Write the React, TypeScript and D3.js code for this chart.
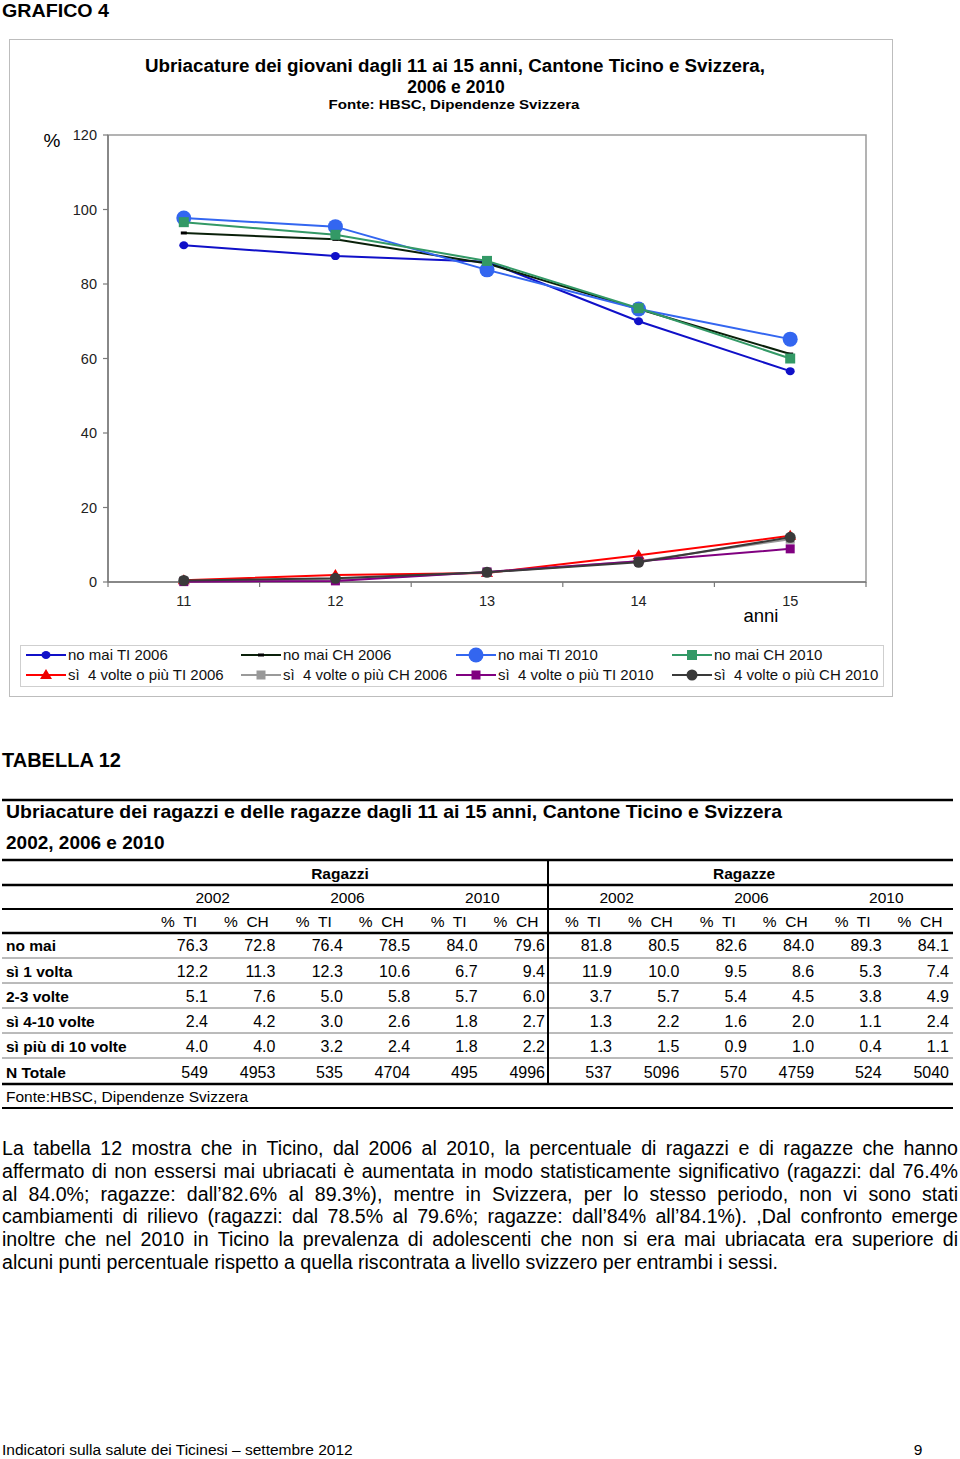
import React, { useEffect, useRef } from "react";
import * as d3 from "d3";

const ages = ["11", "12", "13", "14", "15"];
const yTicks = [0, 20, 40, 60, 80, 100, 120];

const noMaiTI2006 = [90.4, 87.5, 86.0, 70.0, 56.6];
const noMaiCH2006 = [93.7, 92.0, 85.5, 73.3, 61.2];
const noMaiTI2010 = [97.7, 95.4, 83.8, 73.3, 65.2];
const noMaiCH2010 = [96.6, 93.2, 86.2, 73.5, 60.0];
const si4TI2006 = [0.5, 1.9, 2.4, 7.2, 12.4];
const si4CH2006 = [0.3, 0.6, 2.6, 5.6, 11.5];
const si4TI2010 = [0.1, 0.3, 2.7, 5.6, 8.9];
const si4CH2010 = [0.4, 1.0, 2.6, 5.3, 12.0];

const seriesNames = [
  "no mai TI 2006", "no mai CH 2006", "no mai TI 2010", "no mai CH 2010",
  "sì  4 volte o più TI 2006", "sì  4 volte o più CH 2006", "sì  4 volte o più TI 2010", "sì  4 volte o più CH 2010",
];

// table data
const tableYears = ["2002", "2006", "2010", "2002", "2006", "2010"];
const tableRowLabels = ["no mai", "sì 1 volta", "2-3 volte", "sì 4-10 volte", "sì più di 10 volte", "N Totale"];
const rowNoMai = ["76.3", "72.8", "76.4", "78.5", "84.0", "79.6", "81.8", "80.5", "82.6", "84.0", "89.3", "84.1"];
const rowUnaVolta = ["12.2", "11.3", "12.3", "10.6", "6.7", "9.4", "11.9", "10.0", "9.5", "8.6", "5.3", "7.4"];
const rowDueTre = ["5.1", "7.6", "5.0", "5.8", "5.7", "6.0", "3.7", "5.7", "5.4", "4.5", "3.8", "4.9"];
const rowQuattroDieci = ["2.4", "4.2", "3.0", "2.6", "1.8", "2.7", "1.3", "2.2", "1.6", "2.0", "1.1", "2.4"];
const rowPiuDieci = ["4.0", "4.0", "3.2", "2.4", "1.8", "2.2", "1.3", "1.5", "0.9", "1.0", "0.4", "1.1"];
const rowTotale = ["549", "4953", "535", "4704", "495", "4996", "537", "5096", "570", "4759", "524", "5040"];

const paragraphLines = [
  "La tabella 12 mostra che in Ticino, dal 2006 al 2010, la percentuale di ragazzi e di ragazze che hanno",
  "affermato di non essersi mai ubriacati è aumentata in modo statisticamente significativo (ragazzi: dal 76.4%",
  "al 84.0%; ragazze: dall’82.6% al 89.3%), mentre in Svizzera, per lo stesso periodo, non vi sono stati",
  "cambiamenti di rilievo (ragazzi: dal 78.5% al 79.6%; ragazze: dall’84% all’84.1%). ,Dal confronto emerge",
  "inoltre che nel 2010 in Ticino la prevalenza di adolescenti che non si era mai ubriacata era superiore di",
  "alcuni punti percentuale rispetto a quella riscontrata a livello svizzero per entrambi i sessi.",
];

const FONT = "'Liberation Sans', Arial, Helvetica, sans-serif";

type Marker = "smallCircle" | "dash" | "bigCircle" | "square" | "triangle" | "greySquare" | "purpleSquare" | "darkCircle";
const seriesStyles: { color: string; marker: Marker; markerColor: string }[] = [
  { color: "#1010c8", marker: "smallCircle", markerColor: "#1010c8" },
  { color: "#0a200a", marker: "dash", markerColor: "#000000" },
  { color: "#3366f0", marker: "bigCircle", markerColor: "#3366f0" },
  { color: "#339966", marker: "square", markerColor: "#339966" },
  { color: "#ff0000", marker: "triangle", markerColor: "#ee0000" },
  { color: "#9a9a9a", marker: "greySquare", markerColor: "#999999" },
  { color: "#800080", marker: "purpleSquare", markerColor: "#800080" },
  { color: "#3a3a3a", marker: "darkCircle", markerColor: "#3a3a3a" },
];

function drawMarker(m: Marker, x: number, y: number, color: string, key: string) {
  switch (m) {
    case "smallCircle":
      return <ellipse key={key} cx={x} cy={y} rx={4.5} ry={4} fill={color} />;
    case "dash":
      return <rect key={key} x={x - 3} y={y - 1.5} width={6} height={3} fill={color} />;
    case "bigCircle":
      return <circle key={key} cx={x} cy={y} r={7.5} fill={color} />;
    case "square":
      return <rect key={key} x={x - 5} y={y - 5} width={10} height={10} fill={color} />;
    case "triangle":
      return <path key={key} d={`M${x},${y - 6}L${x + 6},${y + 4}L${x - 6},${y + 4}Z`} fill={color} />;
    case "greySquare":
    case "purpleSquare":
      return <rect key={key} x={x - 4.5} y={y - 4.5} width={9} height={9} fill={color} />;
    case "darkCircle":
      return <circle key={key} cx={x} cy={y} r={5.5} fill={color} />;
  }
}

export default function App() {
  const paraRef = useRef<SVGGElement>(null);

  const seriesValues = [noMaiTI2006, noMaiCH2006, noMaiTI2010, noMaiCH2010, si4TI2006, si4CH2006, si4TI2010, si4CH2010];

  const x = d3.scalePoint<string>().domain(ages).range([108, 866]).padding(0.5);
  const y = d3.scaleLinear().domain([0, 120]).range([582, 135]);
  const step = x.step();
  const line = d3.line<number>().x((_, i) => x(ages[i]) as number).y((d) => y(d));

  // table
  const tableRows = [rowNoMai, rowUnaVolta, rowDueTre, rowQuattroDieci, rowPiuDieci, rowTotale];
  const colRight = d3.range(12).map((i) => (i < 6 ? 208 + i * 67.4 : 612 + (i - 6) * 67.4));
  const colCenter = colRight.map((r) => r - 29);
  const rowBaselines = [951, 977, 1002, 1027, 1052, 1078];

  useEffect(() => {
    const g = d3.select(paraRef.current);
    g.selectAll("*").remove();
    const left = 2;
    const right = 958;
    const baseY = 1155;
    const lh = 22.8;
    paragraphLines.forEach((ln, li) => {
      const words = ln.split(" ");
      const yy = baseY + li * lh;
      const nodes = words.map((w) =>
        g.append("text").attr("y", yy).attr("font-family", FONT).attr("font-size", 19.6).attr("fill", "#000").text(w)
      );
      const widths = nodes.map((n) => (n.node() as SVGTextElement).getComputedTextLength());
      const total = d3.sum(widths);
      const last = li === paragraphLines.length - 1;
      const gap = last ? 5.4 : (right - left - total) / (words.length - 1);
      let cx = left;
      nodes.forEach((n, i) => {
        n.attr("x", cx);
        cx += widths[i] + gap;
      });
    });
  }, []);

  const legendCols = [26, 241, 456, 672];
  const legendRows = [655, 675];
  const TF = 15.5;

  return (
    <svg width={960} height={1459} style={{ position: "absolute", left: 0, top: 0, background: "#fff" }} fontFamily={FONT}>
      <rect x={0} y={0} width={960} height={1459} fill="#fff" />
      <text x={2} y={17} fontSize={19} fontWeight="bold" textLength={107} lengthAdjust="spacingAndGlyphs">GRAFICO 4</text>

      {/* chart frame */}
      <rect x={9.5} y={39.5} width={883} height={657} fill="none" stroke="#bdbdbd" strokeWidth={1} />
      <text x={455} y={72} fontSize={17.5} fontWeight="bold" textAnchor="middle" textLength={620} lengthAdjust="spacingAndGlyphs">
        Ubriacature dei giovani dagli 11 ai 15 anni, Cantone Ticino e Svizzera,
      </text>
      <text x={456} y={93} fontSize={17.5} fontWeight="bold" textAnchor="middle">2006 e 2010</text>
      <text x={454} y={109} fontSize={13.5} fontWeight="bold" textAnchor="middle" textLength={251} lengthAdjust="spacingAndGlyphs">
        Fonte: HBSC, Dipendenze Svizzera
      </text>

      {/* plot area */}
      <rect x={108} y={135} width={758} height={447} fill="none" stroke="#9a9a9a" strokeWidth={1.5} />
      <line x1={108} x2={108} y1={135} y2={582} stroke="#7a7a7a" strokeWidth={1.5} />
      <line x1={108} x2={866} y1={582} y2={582} stroke="#7a7a7a" strokeWidth={1.5} />
      {yTicks.map((t) => (
        <g key={t}>
          <line x1={103} x2={108} y1={y(t)} y2={y(t)} stroke="#7a7a7a" strokeWidth={1.2} />
          <text x={97} y={y(t) + 5} fontSize={14.5} textAnchor="end" fill="#222">{t}</text>
        </g>
      ))}
      {d3.range(ages.length + 1).map((i) => (
        <line key={i} x1={108 + i * step} x2={108 + i * step} y1={582} y2={587} stroke="#7a7a7a" strokeWidth={1.2} />
      ))}
      {ages.map((a) => (
        <text key={a} x={x(a)} y={606} fontSize={14.5} textAnchor="middle" fill="#222">{a}</text>
      ))}
      <text x={52} y={147} fontSize={19} textAnchor="middle">%</text>
      <text x={761} y={622} fontSize={18.5} textAnchor="middle">anni</text>

      {/* series */}
      {seriesValues.map((vals, si) => (
        <g key={si}>
          <path d={line(vals) || ""} fill="none" stroke={seriesStyles[si].color} strokeWidth={2} />
          {vals.map((v, i) => drawMarker(seriesStyles[si].marker, x(ages[i]) as number, y(v), seriesStyles[si].markerColor, `${si}-${i}`))}
        </g>
      ))}

      {/* legend */}
      <rect x={20.5} y={645.5} width={863} height={41} fill="none" stroke="#cfcfcf" strokeWidth={1} />
      {seriesNames.map((name, i) => {
        const cx = legendCols[i % 4];
        const cy = legendRows[Math.floor(i / 4)];
        const st = seriesStyles[i];
        return (
          <g key={name}>
            <line x1={cx} x2={cx + 40} y1={cy} y2={cy} stroke={st.color} strokeWidth={2} />
            {drawMarker(st.marker, cx + 20, cy, st.markerColor, `lg${i}`)}
            <text x={cx + 42} y={cy + 5} fontSize={15} xmlSpace="preserve" fill="#111">{name}</text>
          </g>
        );
      })}

      {/* table */}
      <text x={2} y={767} fontSize={20} fontWeight="bold">TABELLA 12</text>
      <line x1={2} x2={953} y1={800} y2={800} stroke="#000" strokeWidth={2.5} />
      <text x={6} y={818} fontSize={19} fontWeight="bold" textLength={776} lengthAdjust="spacingAndGlyphs">
        Ubriacature dei ragazzi e delle ragazze dagli 11 ai 15 anni, Cantone Ticino e Svizzera
      </text>
      <text x={6} y={849} fontSize={19} fontWeight="bold">2002, 2006 e 2010</text>
      <line x1={2} x2={953} y1={860} y2={860} stroke="#000" strokeWidth={2.5} />
      <text x={340} y={879} fontSize={TF} fontWeight="bold" textAnchor="middle">Ragazzi</text>
      <text x={744} y={879} fontSize={TF} fontWeight="bold" textAnchor="middle">Ragazze</text>
      <line x1={2} x2={953} y1={885} y2={885} stroke="#000" strokeWidth={2.5} />
      {tableYears.map((yr, i) => (
        <text key={i} x={(colCenter[i * 2] + colCenter[i * 2 + 1]) / 2} y={903} fontSize={TF} textAnchor="middle">{yr}</text>
      ))}
      <line x1={2} x2={953} y1={909} y2={909} stroke="#000" strokeWidth={2} />
      {colCenter.map((c, i) => (
        <text key={i} x={c} y={927} fontSize={TF} textAnchor="middle" xmlSpace="preserve">{i % 2 === 0 ? "%  TI" : "%  CH"}</text>
      ))}
      <line x1={2} x2={953} y1={933} y2={933} stroke="#000" strokeWidth={2.5} />
      {[958, 983, 1008, 1033, 1058].map((ly) => (
        <line key={ly} x1={2} x2={953} y1={ly} y2={ly} stroke="#777" strokeWidth={1} />
      ))}
      {tableRowLabels.map((lab, ri) => (
        <g key={lab}>
          <text x={6} y={rowBaselines[ri]} fontSize={TF} fontWeight="bold">{lab}</text>
          {tableRows[ri].map((v, ci) => (
            <text key={ci} x={colRight[ci]} y={rowBaselines[ri]} fontSize={16} textAnchor="end">{v}</text>
          ))}
        </g>
      ))}
      <line x1={2} x2={953} y1={1084} y2={1084} stroke="#000" strokeWidth={2.5} />
      <line x1={548} x2={548} y1={860} y2={1084} stroke="#000" strokeWidth={2} />
      <text x={6} y={1102} fontSize={TF}>Fonte:HBSC, Dipendenze Svizzera</text>
      <line x1={2} x2={953} y1={1108} y2={1108} stroke="#000" strokeWidth={2} />

      {/* paragraph */}
      <g ref={paraRef} />

      {/* footer */}
      <text x={2} y={1455} fontSize={15.5}>Indicatori sulla salute dei Ticinesi – settembre 2012</text>
      <text x={918} y={1455} fontSize={15.5} textAnchor="middle">9</text>
    </svg>
  );
}
